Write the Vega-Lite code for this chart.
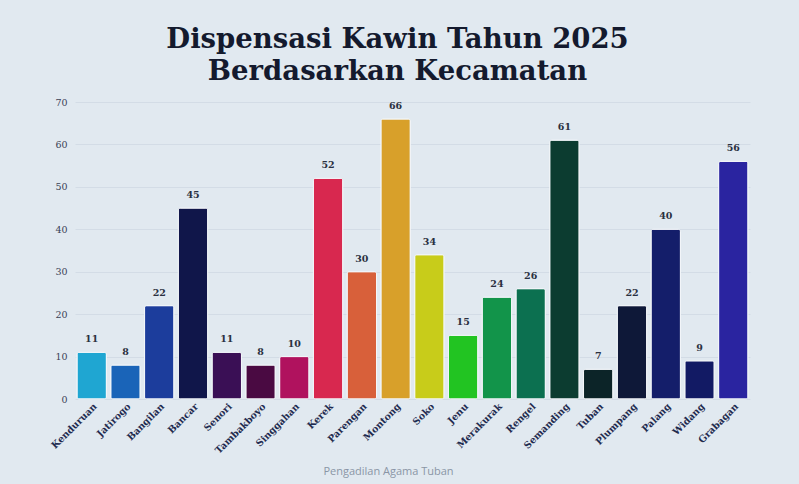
{
  "$schema": "https://vega.github.io/schema/vega-lite/v6.json",
  "width": 675,
  "height": 297,
  "autosize": {"type": "none"},
  "padding": {"left": 75, "top": 102, "right": 49, "bottom": 85},
  "background": "#e1e9f0",
  "view": {"stroke": null},
  "title": {
    "text": ["Dispensasi Kawin Tahun 2025", "Berdasarkan Kecamatan"],
    "font": "DejaVu Serif",
    "fontSize": 27.5,
    "fontWeight": "bold",
    "color": "#141a2e",
    "lineHeight": 32,
    "anchor": "middle",
    "dx": -15,
    "offset": 12
  },
  "data": {
    "values": [
      {"kecamatan": "Kenduruan", "jumlah": 11},
      {"kecamatan": "Jatirogo", "jumlah": 8},
      {"kecamatan": "Bangilan", "jumlah": 22},
      {"kecamatan": "Bancar", "jumlah": 45},
      {"kecamatan": "Senori", "jumlah": 11},
      {"kecamatan": "Tambakboyo", "jumlah": 8},
      {"kecamatan": "Singgahan", "jumlah": 10},
      {"kecamatan": "Kerek", "jumlah": 52},
      {"kecamatan": "Parengan", "jumlah": 30},
      {"kecamatan": "Montong", "jumlah": 66},
      {"kecamatan": "Soko", "jumlah": 34},
      {"kecamatan": "Jenu", "jumlah": 15},
      {"kecamatan": "Merakurak", "jumlah": 24},
      {"kecamatan": "Rengel", "jumlah": 26},
      {"kecamatan": "Semanding", "jumlah": 61},
      {"kecamatan": "Tuban", "jumlah": 7},
      {"kecamatan": "Plumpang", "jumlah": 22},
      {"kecamatan": "Palang", "jumlah": 40},
      {"kecamatan": "Widang", "jumlah": 9},
      {"kecamatan": "Grabagan", "jumlah": 56}
    ]
  },
  "encoding": {
    "x": {
      "field": "kecamatan",
      "type": "nominal",
      "sort": null,
      "scale": {"paddingInner": 0.13, "paddingOuter": 0.06},
      "axis": {
        "title": "Pengadilan Agama Tuban",
        "titleFont": "Open Sans",
        "titleFontSize": 11,
        "titleFontWeight": "normal",
        "titleColor": "#8a96a6",
        "titleX": 313,
        "titleY": 66,
        "labelAngle": -45,
        "labelAlign": "right",
        "labelBaseline": "top",
        "labelFont": "DejaVu Serif",
        "labelFontSize": 9.5,
        "labelFontWeight": "bold",
        "labelColor": "#1f2b4f",
        "labelPadding": 2,
        "ticks": false,
        "domain": false
      }
    },
    "y": {
      "field": "jumlah",
      "type": "quantitative",
      "scale": {"domain": [0, 70]},
      "axis": {
        "title": null,
        "values": [0, 10, 20, 30, 40, 50, 60, 70],
        "labelFont": "DejaVu Serif",
        "labelFontSize": 9.5,
        "labelColor": "#3a4256",
        "labelPadding": 8,
        "ticks": false,
        "domain": false,
        "gridColor": "#d3dce6",
        "gridWidth": 1
      }
    }
  },
  "layer": [
    {
      "mark": {"type": "bar", "cornerRadius": 2, "stroke": "#f4f7fa", "strokeWidth": 1},
      "encoding": {
        "color": {
          "field": "kecamatan",
          "type": "nominal",
          "legend": null,
          "scale": {
            "domain": ["Kenduruan", "Jatirogo", "Bangilan", "Bancar", "Senori", "Tambakboyo", "Singgahan", "Kerek", "Parengan", "Montong", "Soko", "Jenu", "Merakurak", "Rengel", "Semanding", "Tuban", "Plumpang", "Palang", "Widang", "Grabagan"],
            "range": ["#1fa6d2", "#1a64b8", "#1c3d9c", "#10164a", "#3a0f55", "#4a0a42", "#b0125e", "#d8284f", "#d8603a", "#d8a02a", "#c8cc1a", "#22c422", "#12944a", "#0c7050", "#0c3c30", "#0c2428", "#0e1838", "#141e6a", "#121a64", "#2a24a0"]
          }
        }
      }
    },
    {
      "mark": {"type": "text", "dy": -13, "font": "DejaVu Serif", "fontSize": 9.5, "fontWeight": "bold", "color": "#2a3040"},
      "encoding": {"text": {"field": "jumlah", "type": "quantitative"}}
    }
  ]
}
